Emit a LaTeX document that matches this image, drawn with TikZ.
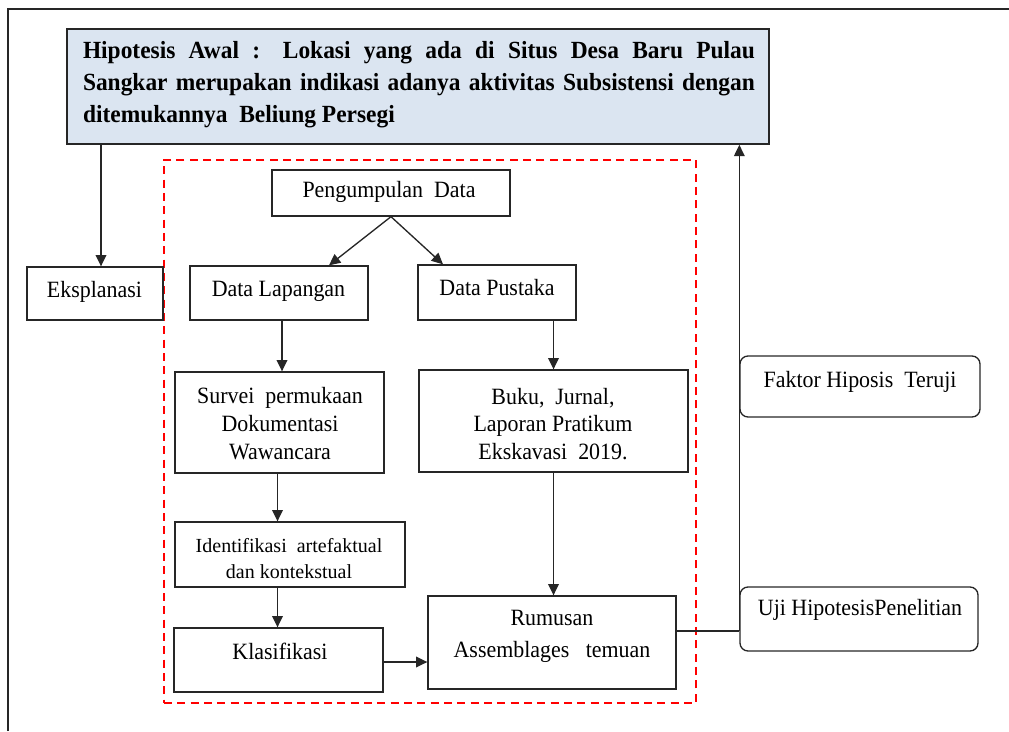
\documentclass[tikz,border=0pt]{standalone}
\usepackage{fontspec}
\setmainfont{Liberation Serif}
\newfontfamily\regf[FakeStretch=0.94]{Liberation Serif}
\newfontfamily\hypf[FakeStretch=0.95]{Liberation Serif}
\usetikzlibrary{arrows.meta,calc}
\definecolor{hypfill}{HTML}{DBE5F1}
\definecolor{ln}{HTML}{262626}
\tikzset{
  box/.style={draw=ln,line width=1pt,inner sep=0pt,rectangle},
  rbox/.style={box,rounded corners=6pt},
  txt/.style={inner sep=0pt,align=center,font=\regf\fontsize{17.5}{21}\selectfont},
  arr/.style={draw=ln,line width=1pt,-{Triangle[length=8.5pt,width=8pt]}},
  ln/.style={draw=ln,line width=1pt},
}
\begin{document}
\begin{tikzpicture}[x=0.75pt,y=-0.75pt]
\useasboundingbox (0,0) rectangle (1009,731);
% outer frame
\draw[line width=1.6pt,ln] (8,731) -- (8,9) -- (1009,9);
% group
\node[draw=red,line width=1.5pt,dash pattern=on 6pt off 4pt,inner sep=0pt,minimum width=532*0.75pt,minimum height=543*0.75pt] (grp) at (430,431.5) {};
% hypothesis
\node[box,fill=hypfill,line width=1.2pt,minimum width=702*0.75pt,minimum height=115*0.75pt] (hyp) at (418,86.5) {};
\node[inner sep=0pt,text width=504pt,align=justify,font=\hypf\bfseries\fontsize{18.5}{24}\selectfont] (hypt) at (419,85)
{Hipotesis Awal : Lokasi yang ada di Situs Desa Baru Pulau\linebreak Sangkar merupakan indikasi adanya aktivitas Subsistensi dengan\linebreak ditemukannya\ \ Beliung Persegi};
% boxes
\node[box,minimum width=136*0.75pt,minimum height=53*0.75pt] (eks) at (95,293.5) {};
\node[box,minimum width=238*0.75pt,minimum height=46*0.75pt] (pd) at (391,193) {};
\node[box,minimum width=178*0.75pt,minimum height=54*0.75pt] (dl) at (279,293) {};
\node[box,minimum width=158*0.75pt,minimum height=55*0.75pt] (dp) at (497,292.5) {};
\node[box,minimum width=209*0.75pt,minimum height=101*0.75pt] (sv) at (279.5,422.5) {};
\node[box,minimum width=269*0.75pt,minimum height=102*0.75pt] (bk) at (553.5,421) {};
\node[box,minimum width=230*0.75pt,minimum height=65*0.75pt] (id) at (290,554.5) {};
\node[box,minimum width=209*0.75pt,minimum height=64*0.75pt] (kl) at (278.5,660) {};
\node[box,minimum width=248*0.75pt,minimum height=93*0.75pt] (rm) at (552,642.5) {};
\node[rbox,minimum width=240*0.75pt,minimum height=61*0.75pt] (fk) at (860,386.5) {};
\node[rbox,minimum width=238*0.75pt,minimum height=64*0.75pt] (uj) at (859,619) {};
% texts
\node[txt] (ekst) at (94.5,292) {Eksplanasi};
\node[txt] (pdt) at (389,192) {Pengumpulan\ \ Data};
\node[txt] (dlt) at (278.5,291) {Data Lapangan};
\node[txt] (dpt) at (497,288) {Data Pustaka};
\node[txt,font=\regf\fontsize{17.5}{21}\selectfont] (svt) at (280,424) {Survei\ \ permukaan\\Dokumentasi\\Wawancara};
\node[txt,font=\regf\fontsize{17.5}{20.6}\selectfont] (bkt) at (553,424) {Buku,\ \ Jurnal,\\Laporan Pratikum\\Ekskavasi\ \ 2019.};
\node[txt,font=\fontsize{15}{19.5}\selectfont] (idt) at (289,559) {Identifikasi\ \ artefaktual\\dan kontekstual};
\node[txt] (klt) at (280,651) {Klasifikasi};
\node[txt,font=\regf\fontsize{17.5}{24}\selectfont] (rmt) at (552,636) {Rumusan\\Assemblages\ \ \ temuan};
\node[txt] (fkt) at (860,382) {Faktor Hiposis\ \ Teruji};
\node[txt] (ujt) at (860,610) {Uji HipotesisPenelitian};
% helper coordinates
\coordinate (a1) at ($(eks.north)+(6,0)$);
\coordinate (a2) at ($(dl.north)+(50,0)$);
\coordinate (a3) at ($(dp.north)+(-54,0)$);
\coordinate (a4) at ($(dl.south)+(3,0)$);
\coordinate (a5) at ($(sv.south)+(-2,0)$);
\coordinate (a6) at ($(kl.east)+(0,2)$);
\coordinate (a7) at ($(rm.east)+(0,-11.5)$);
\coordinate (j) at (a7 -| uj.west);
% connectors
\draw[arr] (a1 |- hyp.south) -- (a1);
\draw[arr] (pd.south) -- (a2);
\draw[arr] (pd.south) -- (a3);
\draw[arr] (a4) -- (a4 |- sv.north);
\draw[arr] (bk.north |- dp.south) -- (bk.north);
\draw[arr] (a5) -- (a5 |- id.north);
\draw[arr] (a5 |- id.south) -- (a5 |- kl.north);
\draw[arr] (bk.south) -- (bk.south |- rm.north);
\draw[arr] (a6) -- (a6 -| rm.west);
\draw[ln] (a7) -- (j);
\draw[arr] (j) -- (j |- hyp.south);
\end{tikzpicture}
\end{document}
